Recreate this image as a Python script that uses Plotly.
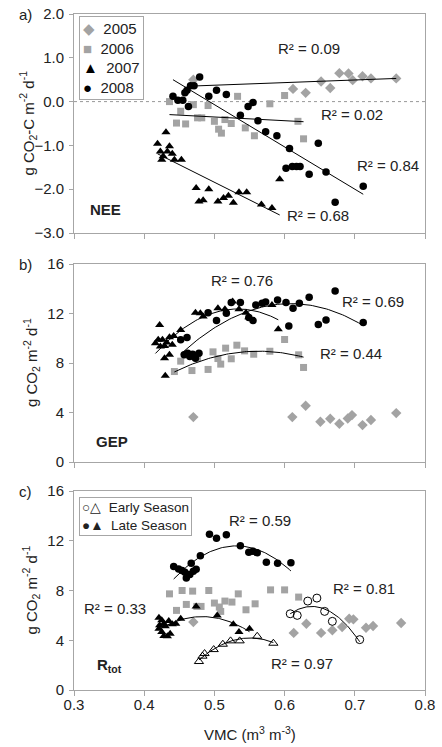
import numpy as np
import plotly.graph_objects as go

# ---------------- Panel a) NEE ----------------
nee05_x = [0.470, 0.612, 0.630, 0.652, 0.665, 0.678, 0.691, 0.697, 0.711, 0.723, 0.759]
nee05_y = [0.50, 0.29, 0.20, 0.46, 0.31, 0.65, 0.64, 0.49, 0.58, 0.53, 0.53]

nee06_x = [0.436, 0.446, 0.452, 0.459, 0.470, 0.476, 0.482, 0.491, 0.500, 0.506, 0.510,
           0.515, 0.524, 0.533, 0.544, 0.557, 0.579, 0.600, 0.619, 0.627]
nee06_y = [0.00, -0.49, -0.22, -0.51, -0.07, -0.37, -0.37, -0.09, -0.45, -0.63, -0.72,
           -0.41, -0.50, 0.12, -0.60, -0.78, -0.05, 0.14, -0.45, -0.85]

nee07_x = [0.419, 0.423, 0.431, 0.427, 0.425, 0.436, 0.440, 0.433, 0.443, 0.453,
           0.474, 0.478, 0.484, 0.492, 0.505, 0.513, 0.520, 0.527, 0.535, 0.546,
           0.567, 0.582, 0.593]
nee07_y = [-0.96, -1.14, -0.70, -1.25, -1.33, -1.02, -1.19, -1.14, -1.33, -1.33,
           -1.97, -2.28, -2.25, -2.00, -2.28, -2.20, -2.15, -2.31, -2.07, -2.07,
           -2.35, -2.43, -1.77]

nee08_x = [0.441, 0.448, 0.455, 0.458, 0.461, 0.463, 0.466, 0.471, 0.479, 0.492,
           0.503, 0.517, 0.537, 0.548, 0.555, 0.562, 0.573, 0.589, 0.607, 0.602,
           0.611, 0.617, 0.622, 0.635, 0.648, 0.659, 0.672, 0.712]
nee08_y = [0.12, 0.03, 0.03, 0.20, 0.26, -0.11, 0.36, 0.36, 0.56, 0.12,
           0.26, 0.16, -0.31, -0.11, -0.02, -0.44, -0.69, -0.78, -1.07, -1.52,
           -1.48, -1.48, -1.48, -1.66, -0.95, -1.61, -2.30, -1.93]

# ---------------- Panel b) GEP ----------------
gep05_x = [0.470, 0.611, 0.630, 0.651, 0.665, 0.678, 0.690, 0.696, 0.711, 0.723, 0.759]
gep05_y = [3.63, 3.63, 4.54, 3.25, 3.50, 3.09, 3.52, 3.79, 2.98, 3.39, 3.95]

gep06_x = [0.443, 0.452, 0.468, 0.476, 0.491, 0.498, 0.505, 0.509, 0.516, 0.524,
           0.532, 0.543, 0.556, 0.579, 0.600, 0.620, 0.627]
gep06_y = [7.31, 8.15, 7.39, 8.39, 7.48, 8.90, 8.36, 7.91, 9.20, 8.34,
           9.44, 8.98, 8.71, 8.95, 9.90, 8.66, 7.64]

gep07_x = [0.422, 0.416, 0.420, 0.423, 0.426, 0.429, 0.432, 0.436, 0.440, 0.442,
           0.452, 0.429, 0.436, 0.430, 0.473, 0.480, 0.484, 0.505, 0.515, 0.526,
           0.535, 0.545, 0.549, 0.582, 0.591]
gep07_y = [11.08, 9.60, 9.87, 9.33, 9.87, 9.38, 9.65, 10.08, 9.47, 10.19,
           10.67, 8.39, 8.66, 6.96, 12.07, 12.02, 11.75, 12.42, 12.34, 12.96,
           12.34, 12.07, 11.70, 12.69, 10.73]

gep08_x = [0.452, 0.461, 0.457, 0.462, 0.465, 0.469, 0.473, 0.478, 0.491, 0.503,
           0.517, 0.524, 0.537, 0.549, 0.555, 0.559, 0.568, 0.573, 0.590, 0.602,
           0.606, 0.612, 0.621, 0.635, 0.648, 0.659, 0.672, 0.712]
gep08_y = [9.87, 10.06, 8.66, 8.79, 8.52, 8.71, 8.39, 8.79, 12.07, 11.43,
           12.02, 12.88, 12.88, 11.67, 11.43, 12.69, 12.83, 12.93, 13.10, 12.88,
           11.00, 12.42, 12.83, 13.31, 11.11, 11.48, 13.82, 11.27]

# ---------------- Panel c) Rtot ----------------
r05_x = [0.470, 0.613, 0.631, 0.652, 0.668, 0.682, 0.692, 0.698, 0.716, 0.726, 0.766]
r05_y = [5.47, 4.59, 5.33, 4.59, 4.80, 5.07, 5.73, 5.68, 5.01, 5.15, 5.39]

r06_x = [0.436, 0.446, 0.454, 0.460, 0.469, 0.475, 0.481, 0.492, 0.500, 0.507,
         0.509, 0.515, 0.525, 0.534, 0.545, 0.558, 0.580, 0.600, 0.620]
r06_y = [7.73, 6.40, 8.00, 6.88, 7.95, 6.72, 6.72, 8.00, 6.99, 6.67,
         6.32, 7.15, 7.07, 7.73, 6.45, 6.93, 8.05, 8.05, 7.47]

late_circ_x = [0.442, 0.449, 0.454, 0.458, 0.460, 0.465, 0.467, 0.470, 0.474, 0.480,
               0.493, 0.503, 0.517, 0.537, 0.549, 0.555, 0.561, 0.574, 0.590, 0.609]
late_circ_y = [9.92, 9.73, 9.60, 9.47, 9.01, 9.28, 10.19, 9.55, 9.71, 10.80,
               12.53, 12.21, 12.48, 11.60, 11.07, 11.15, 11.04, 10.27, 10.19, 10.24]

late_tri_x = [0.421, 0.425, 0.428, 0.430, 0.435, 0.440, 0.445, 0.452, 0.421, 0.425,
              0.428, 0.433, 0.437, 0.422, 0.474, 0.504, 0.527, 0.535, 0.550]
late_tri_y = [5.81, 5.60, 5.33, 5.12, 5.55, 5.28, 5.33, 5.73, 4.93, 4.67,
              4.35, 4.32, 4.53, 5.20, 6.72, 6.00, 5.28, 4.67, 4.93]

early_circ_x = [0.608, 0.618, 0.633, 0.646, 0.657, 0.668, 0.707]
early_circ_y = [6.13, 6.00, 7.15, 7.39, 6.32, 5.52, 4.05]

early_tri_x = [0.478, 0.483, 0.486, 0.499, 0.512, 0.523, 0.536, 0.561, 0.584]
early_tri_y = [2.29, 2.72, 2.93, 3.25, 3.68, 3.95, 3.95, 4.32, 3.76]

years = ["2005", "2006", "2007", "2008"]

GRAY = "#a3a3a3"
AXC = "#a6a6a6"
FONT = "Liberation Sans"


def fit(x, y, deg, n=80):
    c = np.polyfit(x, y, deg)
    xs = np.linspace(min(x), max(x), n)
    return xs, np.polyval(c, xs)


fig = go.Figure()

sty = {
    "diamond": dict(symbol="diamond", color=GRAY, size=8),
    "square": dict(symbol="square", color=GRAY, size=7),
    "triangle": dict(symbol="triangle-up", color="black", size=8),
    "circle": dict(symbol="circle", color="black", size=7.5),
    "otri": dict(symbol="triangle-up-open", color="black", size=8, line=dict(width=1, color="black")),
    "ocirc": dict(symbol="circle-open", color="black", size=8, line=dict(width=1, color="black")),
}


def pts(x, y, s, xa, ya):
    fig.add_trace(go.Scatter(x=x, y=y, mode="markers", marker=sty[s],
                             showlegend=False, xaxis=xa, yaxis=ya, cliponaxis=False))


def line(x, y, deg, xa, ya):
    xs, ys = fit(x, y, deg)
    fig.add_trace(go.Scatter(x=xs, y=ys, mode="lines", line=dict(color="black", width=1),
                             showlegend=False, xaxis=xa, yaxis=ya, hoverinfo="skip"))


# panel a
pts(nee05_x, nee05_y, "diamond", "x", "y")
pts(nee06_x, nee06_y, "square", "x", "y")
pts(nee07_x, nee07_y, "triangle", "x", "y")
pts(nee08_x, nee08_y, "circle", "x", "y")
line(nee05_x, nee05_y, 1, "x", "y")
line(nee06_x, nee06_y, 1, "x", "y")
line(nee07_x, nee07_y, 1, "x", "y")
line(nee08_x, nee08_y, 1, "x", "y")

# panel b
pts(gep05_x, gep05_y, "diamond", "x2", "y2")
pts(gep06_x, gep06_y, "square", "x2", "y2")
pts(gep08_x, gep08_y, "circle", "x2", "y2")
pts(gep07_x, gep07_y, "triangle", "x2", "y2")
line(gep06_x, gep06_y, 2, "x2", "y2")
line(gep07_x, gep07_y, 2, "x2", "y2")
line(gep08_x, gep08_y, 2, "x2", "y2")

# panel c
pts(r05_x, r05_y, "diamond", "x3", "y3")
pts(r06_x, r06_y, "square", "x3", "y3")
pts(late_circ_x, late_circ_y, "circle", "x3", "y3")
pts(late_tri_x, late_tri_y, "triangle", "x3", "y3")
pts(early_circ_x, early_circ_y, "ocirc", "x3", "y3")
pts(early_tri_x, early_tri_y, "otri", "x3", "y3")
line(late_circ_x, late_circ_y, 2, "x3", "y3")
line(late_tri_x, late_tri_y, 2, "x3", "y3")
line(early_circ_x, early_circ_y, 2, "x3", "y3")
line(early_tri_x, early_tri_y, 2, "x3", "y3")

# layout geometry (body margin removed by post_script, so page px == figure px)
W, H = 442, 747
L, T = 74, 14
R = W - 425
B = H - 690
ph = H - T - B
pw = W - L - R


def py(page_y):
    return (690 - page_y) / ph


def px(page_x):
    return (page_x - 74) / pw


def dom(top_px, bot_px):
    return [py(bot_px), py(top_px)]


axis_common = dict(range=[0.3, 0.8], dtick=0.1, showline=True, linecolor=AXC, mirror=True,
                   ticks="outside", ticklen=5, tickcolor=AXC, showgrid=False, zeroline=False,
                   tickfont=dict(size=15, color="#222"), automargin=False,
                   ticklabeloverflow="allow")
yaxis_common = dict(showline=True, linecolor=AXC, mirror=True, ticks="outside", ticklen=4,
                    tickcolor=AXC, showgrid=False, zeroline=False, automargin=False,
                    tickfont=dict(size=15, color="#222"), ticklabelstandoff=2,
                    ticklabeloverflow="allow")

fig.update_layout(
    width=W, height=H, margin=dict(l=L, r=R, t=T, b=B, autoexpand=False),
    paper_bgcolor="white", plot_bgcolor="white",
    font=dict(family=FONT, size=15, color="#222"),
    xaxis=dict(axis_common, anchor="y", showticklabels=False),
    xaxis2=dict(axis_common, anchor="y2", showticklabels=False),
    xaxis3=dict(axis_common, anchor="y3", tickformat=".1f", ticklabelstandoff=-4),
    yaxis=dict(yaxis_common, domain=dom(14, 233), range=[-3, 2], dtick=1, tickformat=".1f", anchor="x"),
    yaxis2=dict(yaxis_common, domain=dom(264, 462), range=[0, 16], dtick=4, anchor="x2"),
    yaxis3=dict(yaxis_common, domain=dom(491, 690), range=[0, 16], dtick=4, anchor="x3"),
    showlegend=False,
)

# zero line in panel a
fig.add_shape(type="line", xref="x domain", yref="y", x0=0, x1=1, y0=0, y1=0,
              line=dict(color="#999", width=1, dash="dot"), layer="below")

# axis titles
ytitles = [("g CO<sub>2</sub>-C m<sup>-2</sup> d<sup>-1</sup>", 28, (14 + 233) / 2),
           ("g CO<sub>2</sub> m<sup>-2</sup> d<sup>-1</sup>", 31, (264 + 462) / 2),
           ("g CO<sub>2</sub> m<sup>-2</sup> d<sup>-1</sup>", 31, (491 + 690) / 2)]
for t, xp, yp in ytitles:
    fig.add_annotation(text=t, x=px(xp), y=py(yp), xref="paper", yref="paper", textangle=-90,
                       xanchor="center", yanchor="middle", showarrow=False,
                       font=dict(size=15, color="#222"))
fig.add_annotation(text="VMC (m<sup>3</sup> m<sup>-3</sup>)", x=px(250), y=py(733),
                   xref="paper", yref="paper", xanchor="center", yanchor="middle",
                   showarrow=False, font=dict(size=15, color="#222"))

# year legend of panel a (text keys, coloured like the series)
sym = ["◆", "■", "▲", "●"]
col = [GRAY, GRAY, "black", "black"]
leg_txt = "<br>".join(f"<span style='color:{c}'>{s}</span>  {y}" for s, c, y in zip(sym, col, years))
fig.add_annotation(text=leg_txt, x=px(79), y=py(16), xref="paper", yref="paper",
                   xanchor="left", yanchor="top", align="left", showarrow=False,
                   bordercolor=AXC, borderwidth=1, borderpad=3, bgcolor="white",
                   font=dict(size=15, color="#222"))

ann = [
    ("R² = 0.09", 0.635, 1.22, "x", "y"),
    ("R² = 0.02", 0.696, -0.30, "x", "y"),
    ("R² = 0.84", 0.747, -1.46, "x", "y"),
    ("R² = 0.68", 0.648, -2.60, "x", "y"),
    ("<b>NEE</b>", 0.345, -2.47, "x", "y"),
    ("R² = 0.76", 0.540, 14.7, "x2", "y2"),
    ("R² = 0.69", 0.726, 12.96, "x2", "y2"),
    ("R² = 0.44", 0.695, 8.79, "x2", "y2"),
    ("<b>GEP</b>", 0.354, 1.67, "x2", "y2"),
    ("R² = 0.59", 0.565, 13.6, "x3", "y3"),
    ("R² = 0.81", 0.713, 8.19, "x3", "y3"),
    ("R² = 0.33", 0.358, 6.53, "x3", "y3"),
    ("R² = 0.97", 0.625, 2.13, "x3", "y3"),
    ("<b>R<sub>tot</sub></b>", 0.350, 2.0, "x3", "y3"),
]
for t, x, y, xr, yr in ann:
    fig.add_annotation(text=t, x=x, y=y, xref=xr, yref=yr, showarrow=False,
                       font=dict(size=15, color="#222"))

# panel letters
for t, ypx in [("a)", 15), ("b)", 264), ("c)", 491)]:
    fig.add_annotation(text=t, x=px(17), y=py(ypx), xref="paper", yref="paper",
                       xanchor="left", yanchor="middle", showarrow=False,
                       font=dict(size=15, color="#222"))

# season legend in panel c
fig.add_annotation(text="○△  Early Season<br>●▲  Late Season",
                   x=px(79), y=py(497), xref="paper", yref="paper",
                   xanchor="left", yanchor="top", align="left", showarrow=False,
                   bordercolor=AXC, borderwidth=1, borderpad=2, bgcolor="white",
                   font=dict(size=13.5, color="#222"))

fig.write_html("out.html", config={"displayModeBar": False},
               post_script="document.body.style.margin='0';")
